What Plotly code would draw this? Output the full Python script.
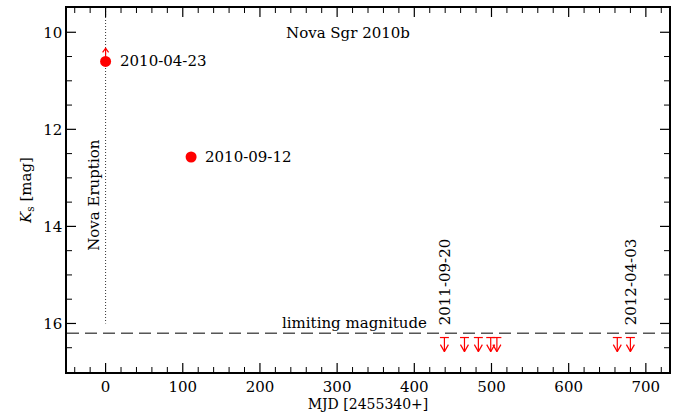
import numpy as np
import plotly.graph_objects as go

# ---- data ----
det_mjd = [0, 110.8]
det_mag = [10.6, 12.57]
det_labels = ["2010-04-23", "2010-09-12"]
lowerlim_mjd = [0]          # first detection is a bright (lower) limit -> upward arrow
lowerlim_mag = [10.6]
lowerlim_tip = [10.33]
ul_mjd = [439, 465, 483, 499, 507, 663, 680]
ul_mag_top = [16.29] * 7
ul_mag_tip = [16.58] * 7
ul_date_mjd = [439, 680]
ul_date_labels = ["2011-09-20", "2012-04-03"]
limit_mag = 16.2
eruption_mjd = 0
eruption_mag_range = [9.5, 16.0]
x_ticks = [0, 100, 200, 300, 400, 500, 600, 700]
y_ticks = [10, 12, 14, 16]

X_RANGE = [-50, 730]
Y_RANGE = [17, 9.5]
RED = "#ff0000"
FONT = "DejaVu Serif"
FS = 15
PX_X = 1 / 0.7734   # MJD per pixel (style helper)
PX_Y = 1 / 48.6     # mag per pixel

fig = go.Figure()

# eruption dotted line
fig.add_trace(go.Scatter(x=[eruption_mjd, eruption_mjd], y=eruption_mag_range, mode="lines",
                         line=dict(color="#333333", width=1, dash="1px,2px"), hoverinfo="skip"))
# limiting magnitude dashed line
fig.add_trace(go.Scatter(x=X_RANGE, y=[limit_mag, limit_mag], mode="lines",
                         line=dict(color="black", width=1, dash="12px,6px"), hoverinfo="skip"))

# upper-limit arrows (down) and lower-limit arrow (up)
xs, ys = [], []
bw, hw, hh = 4.5 * PX_X, 4 * PX_X, 7 * PX_Y
for x, t, b in zip(ul_mjd, ul_mag_top, ul_mag_tip):
    xs += [x - bw, x + bw, None, x, x, None, x - hw, x, x + hw, None]
    ys += [t, t, None, t, b, None, b - hh, b, b - hh, None]
hw2, hh2 = 3 * PX_X, 4 * PX_Y
for x, s, tip in zip(lowerlim_mjd, lowerlim_mag, lowerlim_tip):
    xs += [x, x, None, x - hw2, x, x + hw2, None]
    ys += [s, tip, None, tip + hh2, tip, tip + hh2, None]
fig.add_trace(go.Scatter(x=xs, y=ys, mode="lines", line=dict(color=RED, width=1.2),
                         hoverinfo="skip"))

# detections
fig.add_trace(go.Scatter(x=det_mjd, y=det_mag, mode="markers",
                         marker=dict(color=RED, size=11, line=dict(width=0))))

tfont = dict(family=FONT, size=FS, color="black")
annos = []
for x, y, t in zip(det_mjd, det_mag, det_labels):
    annos.append(dict(x=x, y=y, text=t, showarrow=False, xanchor="left", yanchor="middle",
                      xshift=12, font=tfont))
for x, t in zip(ul_date_mjd, ul_date_labels):
    annos.append(dict(x=x, y=16.07, text=t, showarrow=False, textangle=-90,
                      xanchor="center", yanchor="bottom", font=tfont))
annos.append(dict(x=314, y=10.02, text="Nova Sgr 2010b", showarrow=False,
                  xanchor="center", yanchor="middle", font=tfont))
annos.append(dict(x=419.6, y=16.0, text="limiting magnitude", showarrow=False,
                  xanchor="right", yanchor="middle", font=tfont))
annos.append(dict(x=-15, y=13.35, text="Nova Eruption", showarrow=False, textangle=-90,
                  xanchor="center", yanchor="middle", font=tfont))

# tick marks on all four sides (inside), placed at axis values
shapes = []
x_minor = [v for v in np.arange(-40, X_RANGE[1], 20) if v not in x_ticks]
y_minor = [v for v in np.arange(10.0, 17.0, 0.5) if v not in y_ticks]
for vals, L, W in ((x_ticks, 9, 1.2), (x_minor, 5, 1)):
    for v in vals:
        for anc, sgn in ((0, 1), (1, -1)):
            shapes.append(dict(type="line", xref="x", yref="paper", ysizemode="pixel", yanchor=anc,
                               x0=v, x1=v, y0=0, y1=sgn * L, line=dict(color="black", width=W),
                               layer="above"))
for vals, L, W in ((y_ticks, 9, 1.2), (y_minor, 5, 1)):
    for v in vals:
        for anc, sgn in ((0, 1), (1, -1)):
            shapes.append(dict(type="line", xref="paper", yref="y", xsizemode="pixel", xanchor=anc,
                               y0=v, y1=v, x0=0, x1=sgn * L, line=dict(color="black", width=W),
                               layer="above"))

axis_common = dict(showgrid=False, zeroline=False, showline=True, linecolor="black", linewidth=1.5,
                   mirror=True, ticks="", tickfont=tfont, automargin=False)

fig.update_layout(
    width=681, height=412, margin=dict(l=67, r=12, t=8, b=40),
    paper_bgcolor="white", plot_bgcolor="white", showlegend=False,
    annotations=annos, shapes=shapes,
    xaxis=dict(range=X_RANGE, tickmode="array", tickvals=x_ticks, ticktext=[str(v) for v in x_ticks],
               title=dict(text="MJD [2455340+]", font=dict(family=FONT, size=14, color="black"), standoff=8),
               ticklabelstandoff=0, **axis_common),
    yaxis=dict(range=Y_RANGE, tickmode="array", tickvals=y_ticks, ticktext=[str(v) for v in y_ticks],
               title=dict(text="<i>K</i><sub>s</sub> [mag]", font=tfont, standoff=8),
               ticksuffix="\u2002", **axis_common),
)

fig.write_html("out.html", post_script="document.body.style.margin='0';",
               config={"displayModeBar": False})
